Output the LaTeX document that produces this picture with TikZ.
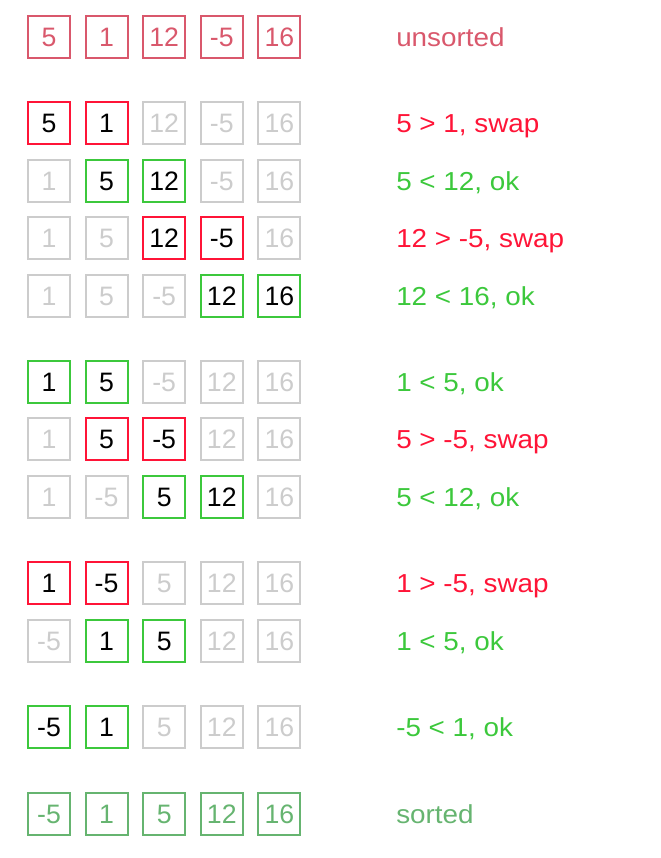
\documentclass[tikz,border=0pt]{standalone}
\usepackage{fontspec}
\setmainfont{Liberation Sans}
\newfontfamily\lblfont[FakeStretch=1.07]{Liberation Sans}
\definecolor{unsc}{RGB}{217,88,108}
\definecolor{redc}{RGB}{255,20,55}
\definecolor{grnc}{RGB}{60,200,60}
\definecolor{gryc}{RGB}{204,204,204}
\definecolor{srtc}{RGB}{102,180,112}
\newcommand\brow[5]{%
  \foreach \s/\v [count=\i] in {#3} {\node[\s] (#1c\i) at ({49+57.6*(\i-1)},#2) {\v};}
  \node[lbl,text=#4] (#1l) at (396,#2+9.2) {#5};
}
\begin{document}
\begin{tikzpicture}[x=0.75pt,y=-0.75pt,
  cell/.style={draw, line width=1.5pt, minimum size=31.5pt, inner sep=0pt,
    font=\fontsize{20}{20}\selectfont, text height=14.6pt, text depth=0pt},
  cu/.style={cell, draw=unsc, text=unsc},
  cr/.style={cell, draw=redc, text=black},
  cg/.style={cell, draw=grnc, text=black},
  cx/.style={cell, draw=gryc, text=gryc},
  cs/.style={cell, draw=srtc, text=srtc},
  lbl/.style={anchor=base west, inner sep=0pt, font=\lblfont\fontsize{19.5}{20}\selectfont}]
\useasboundingbox (0,0) rectangle (661,858);
\brow{ra}{37}{cu/5,cu/1,cu/12,cu/-5,cu/16}{unsc}{unsorted}
\brow{rb}{123}{cr/5,cr/1,cx/12,cx/-5,cx/16}{redc}{5 > 1, swap}
\brow{rc}{181}{cx/1,cg/5,cg/12,cx/-5,cx/16}{grnc}{5 < 12, ok}
\brow{rd}{238}{cx/1,cx/5,cr/12,cr/-5,cx/16}{redc}{12 > -5, swap}
\brow{re}{296}{cx/1,cx/5,cx/-5,cg/12,cg/16}{grnc}{12 < 16, ok}
\brow{rf}{382}{cg/1,cg/5,cx/-5,cx/12,cx/16}{grnc}{1 < 5, ok}
\brow{rg}{439}{cx/1,cr/5,cr/-5,cx/12,cx/16}{redc}{5 > -5, swap}
\brow{rh}{497}{cx/1,cx/-5,cg/5,cg/12,cx/16}{grnc}{5 < 12, ok}
\brow{ri}{583}{cr/1,cr/-5,cx/5,cx/12,cx/16}{redc}{1 > -5, swap}
\brow{rj}{641}{cx/-5,cg/1,cg/5,cx/12,cx/16}{grnc}{1 < 5, ok}
\brow{rk}{727}{cg/-5,cg/1,cx/5,cx/12,cx/16}{grnc}{-5 < 1, ok}
\brow{rl}{814}{cs/-5,cs/1,cs/5,cs/12,cs/16}{srtc}{sorted}
\end{tikzpicture}
\end{document}
